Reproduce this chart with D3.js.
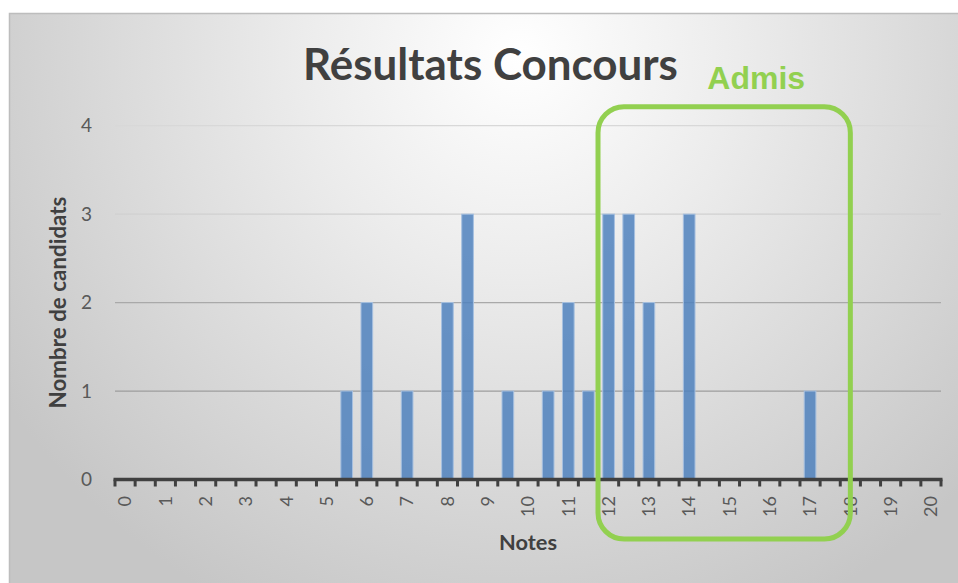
<!DOCTYPE html>
<html>
<head>
<meta charset="utf-8">
<script src="https://cdn.jsdelivr.net/npm/d3@7"></script>
<style>
  html, body { margin: 0; padding: 0; background: #fff; }
  svg { display: block; }
</style>
</head>
<body>
<script>
// notes (pas de 0.5) et nombre de candidats
var notes = [0, 0.5, 1, 1.5, 2, 2.5, 3, 3.5, 4, 4.5, 5, 5.5, 6, 6.5, 7, 7.5, 8, 8.5, 9, 9.5,
             10, 10.5, 11, 11.5, 12, 12.5, 13, 13.5, 14, 14.5, 15, 15.5, 16, 16.5, 17, 17.5,
             18, 18.5, 19, 19.5, 20];
var candidats = [0, 0, 0, 0, 0, 0, 0, 0, 0, 0, 0, 1, 2, 0, 1, 0, 2, 3, 0, 1,
                 0, 1, 2, 1, 3, 3, 2, 0, 3, 0, 0, 0, 0, 0, 1, 0,
                 0, 0, 0, 0, 0];
var yTicks = [0, 1, 2, 3, 4];
var xLabels = [0, 1, 2, 3, 4, 5, 6, 7, 8, 9, 10, 11, 12, 13, 14, 15, 16, 17, 18, 19, 20];
var admis = [12, 18];

var width = 958, height = 583;
var plot = {left: 115, right: 941, top: 125.7, bottom: 479.5};

var svg = d3.select('body').append('svg')
    .attr('width', width)
    .attr('height', height);

var defs = svg.append('defs');
var grad = defs.append('radialGradient')
    .attr('id', 'bg')
    .attr('gradientUnits', 'userSpaceOnUse')
    .attr('cx', 520).attr('cy', 55).attr('r', 620);
grad.append('stop').attr('offset', '0').attr('stop-color', '#ffffff');
grad.append('stop').attr('offset', '0.35').attr('stop-color', '#ececec');
grad.append('stop').attr('offset', '1').attr('stop-color', '#c6c6c6');

// fond du graphique
svg.append('rect')
    .attr('x', 9.5).attr('y', 13.5)
    .attr('width', 960).attr('height', 580)
    .style('fill', 'url(#bg)')
    .style('stroke', '#bdbdbd')
    .style('stroke-width', 1.5);

var x = d3.scaleBand().domain(notes).range([plot.left, plot.right]).padding(0);
var y = d3.scaleLinear().domain([0, 4]).range([plot.bottom, plot.top]);
var bw = x.bandwidth();

// quadrillage
var gridColor = {1: '#9d9d9d', 2: '#a9a9a9', 3: '#d0d0d0', 4: '#d8d8d8'};
svg.append('g').selectAll('line')
    .data(yTicks.filter(function(d) { return d > 0; }))
  .enter().append('line')
    .attr('x1', plot.left).attr('x2', plot.right)
    .attr('y1', function(d) { return y(d); })
    .attr('y2', function(d) { return y(d); })
    .style('stroke', function(d) { return gridColor[d]; })
    .style('stroke-width', 1.3);

// barres
svg.append('g').selectAll('rect')
    .data(notes.map(function(n, i) { return {note: n, value: candidats[i]}; })
      .filter(function(d) { return d.value > 0; }))
  .enter().append('rect')
    .attr('x', function(d) { return x(d.note) + bw * 0.21; })
    .attr('width', bw * 0.58)
    .attr('y', function(d) { return y(d.value); })
    .attr('height', function(d) { return y(0) - y(d.value); })
    .style('fill', '#4f81bd')
    .style('fill-opacity', 0.85)
    .style('stroke', '#a6c0e0')
    .style('stroke-width', 1);

// axe des y
svg.append('g').selectAll('text')
    .data(yTicks)
  .enter().append('text')
    .attr('x', 92)
    .attr('y', function(d) { return y(d); })
    .attr('dy', '0.35em')
    .attr('text-anchor', 'end')
    .style('font-family', 'Lato, "Open Sans", sans-serif')
    .style('font-size', '19px')
    .style('fill', '#595959')
    .text(function(d) { return d; });

// axe des x : graduations entre les catégories
var tickPos = notes.map(function(n) { return x(n); }).concat([plot.right]);
var xAxis = svg.append('g');
xAxis.selectAll('line')
    .data(tickPos)
  .enter().append('line')
    .attr('x1', function(d) { return d; })
    .attr('x2', function(d) { return d; })
    .attr('y1', plot.bottom)
    .attr('y2', plot.bottom + 7)
    .style('stroke', '#404040')
    .style('stroke-width', 3);
xAxis.append('line')
    .attr('x1', plot.left - 1.5).attr('x2', plot.right + 1.5)
    .attr('y1', plot.bottom).attr('y2', plot.bottom)
    .style('stroke', '#404040')
    .style('stroke-width', 3.5);

xAxis.selectAll('text')
    .data(xLabels)
  .enter().append('text')
    .attr('transform', function(d) {
      return 'translate(' + (x(d) + bw / 2) + ',' + 496 + ') rotate(-90)';
    })
    .attr('dy', '0.35em')
    .attr('text-anchor', 'end')
    .style('font-family', 'Lato, "Open Sans", sans-serif')
    .style('font-size', '18px')
    .style('fill', '#595959')
    .text(function(d) { return d; });

// titres
function fit(sel, target) {
  var len = sel.node().getComputedTextLength();
  var fs = parseFloat(sel.style('font-size'));
  sel.style('font-size', (fs * target / len) + 'px');
}

var title = svg.append('text')
    .attr('x', 490.5).attr('y', 80)
    .attr('text-anchor', 'middle')
    .style('font-family', 'Lato, "Open Sans", sans-serif')
    .style('font-weight', 'bold')
    .style('font-size', '42px')
    .style('fill', '#404040')
    .text('Résultats Concours');
fit(title, 375);

var yTitle = svg.append('text')
    .attr('transform', 'translate(65.5,302.5) rotate(-90)')
    .attr('text-anchor', 'middle')
    .style('font-family', 'Lato, "Open Sans", sans-serif')
    .style('font-weight', 'bold')
    .style('font-size', '18px')
    .style('fill', '#404040')
    .text('Nombre de candidats');
fit(yTitle, 212);

var xTitle = svg.append('text')
    .attr('x', 528).attr('y', 550)
    .attr('text-anchor', 'middle')
    .style('font-family', 'Lato, "Open Sans", sans-serif')
    .style('font-weight', 'bold')
    .style('font-size', '19px')
    .style('fill', '#404040')
    .text('Notes');
fit(xTitle, 58);

// zone "Admis"
var boxLeft = x(admis[0]) - 0.5;
var boxRight = x(admis[1]) + bw / 2;
svg.append('rect')
    .attr('x', boxLeft)
    .attr('y', y(4) - 19)
    .attr('width', boxRight - boxLeft)
    .attr('height', 539 - (y(4) - 19))
    .attr('rx', 26).attr('ry', 26)
    .style('fill', 'none')
    .style('stroke', '#92d050')
    .style('stroke-width', 5);

svg.append('text')
    .attr('x', (boxLeft + boxRight) / 2 + 32)
    .attr('y', 88.5)
    .attr('text-anchor', 'middle')
    .style('font-family', '"Liberation Sans", Arial, sans-serif')
    .style('font-weight', 'bold')
    .style('font-size', '32px')
    .style('fill', '#92d050')
    .text('Admis');
</script>
</body>
</html>
